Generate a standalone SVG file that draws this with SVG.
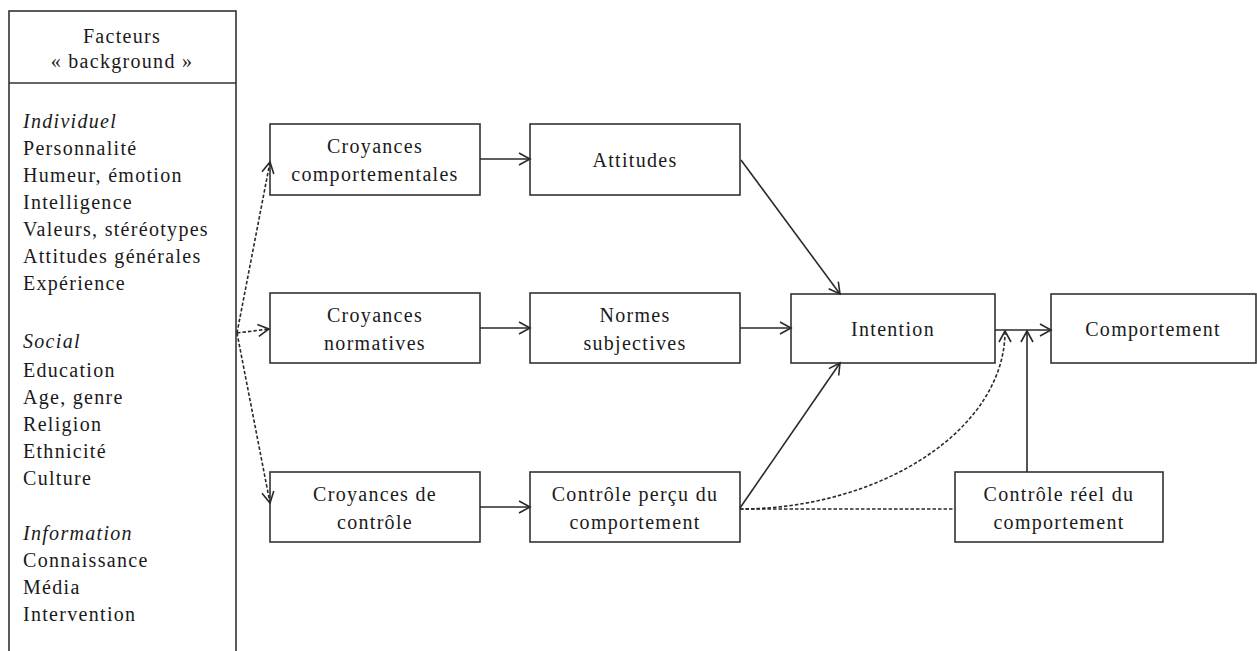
<svg xmlns="http://www.w3.org/2000/svg" width="1257" height="651" viewBox="0 0 1257 651">
<style>
  .box { fill: #fff; stroke: #333; stroke-width: 1.6; }
  .t { font-size: 20px; letter-spacing: 1.3px; fill: #1a1a1a; }
  .c { text-anchor: middle; }
  .i { font-style: italic; }
  .ln { fill: none; stroke: #2a2a2a; stroke-width: 1.6; }
  .dash { stroke-dasharray: 3.5 2; }
</style>
<defs>
  <marker id="arr" markerUnits="userSpaceOnUse" markerWidth="14" markerHeight="14" refX="12" refY="7" orient="auto">
    <path d="M1,1 L12,7 L1,13" fill="none" stroke="#2a2a2a" stroke-width="1.6"/>
  </marker>
</defs>
<rect width="1257" height="651" fill="#fff"/>
<g font-family="Liberation Serif, Times New Roman, serif">
<g id="background">
  <rect class="box" x="9" y="11" width="227" height="660"/>
  <line x1="9" y1="83" x2="236" y2="83" stroke="#333" stroke-width="1.6"/>
  <text class="t c" x="122" y="43">Facteurs</text>
  <text class="t c" x="122" y="68">« background »</text>
  <text class="t i" x="23" y="128">Individuel</text>
  <text class="t" x="23" y="155">Personnalité</text>
  <text class="t" x="23" y="182">Humeur, émotion</text>
  <text class="t" x="23" y="209">Intelligence</text>
  <text class="t" x="23" y="236">Valeurs, stéréotypes</text>
  <text class="t" x="23" y="263">Attitudes générales</text>
  <text class="t" x="23" y="290">Expérience</text>
  <text class="t i" x="23" y="348">Social</text>
  <text class="t" x="23" y="377">Education</text>
  <text class="t" x="23" y="404">Age, genre</text>
  <text class="t" x="23" y="431">Religion</text>
  <text class="t" x="23" y="458">Ethnicité</text>
  <text class="t" x="23" y="485">Culture</text>
  <text class="t i" x="23" y="540">Information</text>
  <text class="t" x="23" y="567">Connaissance</text>
  <text class="t" x="23" y="594">Média</text>
  <text class="t" x="23" y="621">Intervention</text>
</g>

<g id="croyances-comportementales">
  <rect class="box" x="270" y="124" width="210" height="71"/>
  <text class="t c" x="375" y="153">Croyances</text>
  <text class="t c" x="375" y="181">comportementales</text>
</g>
<g id="attitudes">
  <rect class="box" x="530" y="124" width="210" height="71"/>
  <text class="t c" x="635" y="167">Attitudes</text>
</g>
<g id="croyances-normatives">
  <rect class="box" x="270" y="293" width="210" height="70"/>
  <text class="t c" x="375" y="322">Croyances</text>
  <text class="t c" x="375" y="350">normatives</text>
</g>
<g id="normes-subjectives">
  <rect class="box" x="530" y="293" width="210" height="70"/>
  <text class="t c" x="635" y="322">Normes</text>
  <text class="t c" x="635" y="350">subjectives</text>
</g>
<g id="intention">
  <rect class="box" x="791" y="294" width="204" height="69"/>
  <text class="t c" x="893" y="336">Intention</text>
</g>
<g id="comportement">
  <rect class="box" x="1051" y="294" width="205" height="69"/>
  <text class="t c" x="1153" y="336">Comportement</text>
</g>
<g id="croyances-controle">
  <rect class="box" x="270" y="472" width="210" height="70"/>
  <text class="t c" x="375" y="501">Croyances de</text>
  <text class="t c" x="375" y="529">contrôle</text>
</g>
<g id="controle-percu">
  <rect class="box" x="530" y="472" width="210" height="70"/>
  <text class="t c" x="635" y="501">Contrôle perçu  du</text>
  <text class="t c" x="635" y="529">comportement</text>
</g>
<g id="controle-reel">
  <rect class="box" x="955" y="472" width="208" height="70"/>
  <text class="t c" x="1059" y="501">Contrôle réel  du</text>
  <text class="t c" x="1059" y="529">comportement</text>
</g>
</g>
<g id="connectors">
  <line class="ln dash" x1="237" y1="333" x2="270" y2="162" marker-end="url(#arr)"/>
  <line class="ln dash" x1="237" y1="333" x2="269" y2="329" marker-end="url(#arr)"/>
  <line class="ln dash" x1="237" y1="333" x2="270" y2="503" marker-end="url(#arr)"/>
  <line class="ln" x1="480" y1="159" x2="530" y2="159" marker-end="url(#arr)"/>
  <line class="ln" x1="480" y1="328" x2="530" y2="328" marker-end="url(#arr)"/>
  <line class="ln" x1="480" y1="507" x2="530" y2="507" marker-end="url(#arr)"/>
  <line class="ln" x1="740" y1="328" x2="791" y2="328" marker-end="url(#arr)"/>
  <line class="ln" x1="741" y1="160" x2="840" y2="294" marker-end="url(#arr)"/>
  <line class="ln" x1="740" y1="508" x2="840" y2="363" marker-end="url(#arr)"/>
  <line class="ln dash" x1="740" y1="509" x2="955" y2="509"/>
  <path class="ln dash" d="M740,509 C880,509 1005,430 1005,331" marker-end="url(#arr)"/>
  <line class="ln" x1="1027" y1="472" x2="1027" y2="331" marker-end="url(#arr)"/>
  <line class="ln" x1="995" y1="330" x2="1051" y2="330" marker-end="url(#arr)"/>
</g>
</svg>
